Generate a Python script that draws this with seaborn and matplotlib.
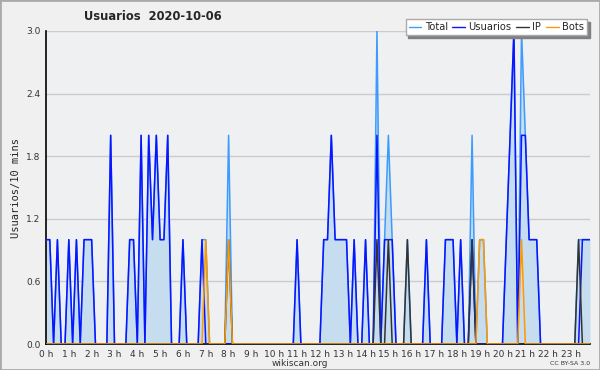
import numpy as np
import pandas as pd
import matplotlib
matplotlib.use("Agg")
import matplotlib.pyplot as plt
import seaborn as sns
from matplotlib.ticker import MultipleLocator
from matplotlib.lines import Line2D
from matplotlib.patches import Rectangle

# ---- data: 10-minute bins over the day (144 bins) ----
usuarios = [
    1, 1, 0, 1, 0, 0, 1, 0, 1, 0, 1, 1,
    1, 0, 0, 0, 0, 2, 0, 0, 0, 0, 1, 1,
    0, 2, 0, 2, 1, 2, 1, 1, 2, 0, 0, 0,
    1, 0, 0, 0, 0, 1, 0, 0, 0, 0, 0, 0,
    0, 0, 0, 0, 0, 0, 0, 0, 0, 0, 0, 0,
    0, 0, 0, 0, 0, 0, 1, 0, 0, 0, 0, 0,
    0, 1, 1, 2, 1, 1, 1, 1, 0, 1, 0, 0,
    1, 0, 0, 2, 0, 1, 1, 1, 0, 0, 0, 0,
    0, 0, 0, 0, 1, 0, 0, 0, 0, 1, 1, 1,
    0, 1, 0, 0, 1, 0, 0, 0, 0, 0, 0, 0,
    0, 1, 2, 3, 0, 2, 2, 1, 1, 1, 0, 0,
    0, 0, 0, 0, 0, 0, 0, 0, 0, 1, 1, 1,
]
ip = [
    0, 0, 0, 0, 0, 0, 0, 0, 0, 0, 0, 0,
    0, 0, 0, 0, 0, 0, 0, 0, 0, 0, 0, 0,
    0, 0, 0, 0, 0, 0, 0, 0, 0, 0, 0, 0,
    0, 0, 0, 0, 0, 0, 0, 0, 0, 0, 0, 0,
    1, 0, 0, 0, 0, 0, 0, 0, 0, 0, 0, 0,
    0, 0, 0, 0, 0, 0, 0, 0, 0, 0, 0, 0,
    0, 0, 0, 0, 0, 0, 0, 0, 0, 0, 0, 0,
    0, 0, 0, 1, 0, 0, 1, 0, 0, 0, 0, 1,
    0, 0, 0, 0, 0, 0, 0, 0, 0, 0, 0, 0,
    0, 0, 0, 0, 1, 0, 0, 0, 0, 0, 0, 0,
    0, 0, 0, 0, 0, 0, 0, 0, 0, 0, 0, 0,
    0, 0, 0, 0, 0, 0, 0, 0, 1, 0, 0, 0,
]
bots = [
    0, 0, 0, 0, 0, 0, 0, 0, 0, 0, 0, 0,
    0, 0, 0, 0, 0, 0, 0, 0, 0, 0, 0, 0,
    0, 0, 0, 0, 0, 0, 0, 0, 0, 0, 0, 0,
    0, 0, 0, 0, 0, 0, 1, 0, 0, 0, 0, 0,
    1, 0, 0, 0, 0, 0, 0, 0, 0, 0, 0, 0,
    0, 0, 0, 0, 0, 0, 0, 0, 0, 0, 0, 0,
    0, 0, 0, 0, 0, 0, 0, 0, 0, 0, 0, 0,
    0, 0, 0, 0, 0, 0, 0, 0, 0, 0, 0, 0,
    0, 0, 0, 0, 0, 0, 0, 0, 0, 0, 0, 0,
    0, 0, 0, 0, 0, 0, 1, 1, 0, 0, 0, 0,
    0, 0, 0, 0, 0, 1, 0, 0, 0, 0, 0, 0,
    0, 0, 0, 0, 0, 0, 0, 0, 0, 0, 0, 0,
]
total = [
    1, 1, 0, 1, 0, 0, 1, 0, 1, 0, 1, 1,
    1, 0, 0, 0, 0, 2, 0, 0, 0, 0, 1, 1,
    0, 2, 0, 2, 1, 2, 1, 1, 2, 0, 0, 0,
    1, 0, 0, 0, 0, 1, 1, 0, 0, 0, 0, 0,
    2, 0, 0, 0, 0, 0, 0, 0, 0, 0, 0, 0,
    0, 0, 0, 0, 0, 0, 1, 0, 0, 0, 0, 0,
    0, 1, 1, 2, 1, 1, 1, 1, 0, 1, 0, 0,
    1, 0, 0, 3, 0, 1, 2, 1, 0, 0, 0, 1,
    0, 0, 0, 0, 1, 0, 0, 0, 0, 1, 1, 1,
    0, 1, 0, 0, 2, 0, 1, 1, 0, 0, 0, 0,
    0, 1, 2, 3, 0, 3, 2, 1, 1, 1, 0, 0,
    0, 0, 0, 0, 0, 0, 0, 0, 1, 1, 1, 1,
]
series_names = ["Total", "Usuarios", "IP", "Bots"]
hour_labels = [f"{h} h" for h in range(24)]
y_ticks = [0.0, 0.6, 1.2, 1.8, 2.4, 3.0]
title_text = "Usuarios  2020-10-06"

hours = np.arange(len(total)) / 6.0
df = pd.DataFrame({"hour": hours, "Total": total, "Usuarios": usuarios,
                   "IP": ip, "Bots": bots})

colors = {"Total": "#3d9bff", "Usuarios": "#0a14ff", "IP": "#333333", "Bots": "#ff9900"}
fill_color = "#c6ddf0"

sns.set_style("white")
plt.rcParams["font.family"] = ["DejaVu Sans"]

fig = plt.figure(figsize=(6.0, 3.7), dpi=100, facecolor="#f0f0f0")
ax = fig.add_axes([46 / 600, 1 - 344 / 370, 544 / 600, 313 / 370])
ax.set_facecolor("#eef0f2")

ax.fill_between(df["hour"], df["Total"], 0, color=fill_color, lw=0, zorder=1)
for name in series_names:
    sns.lineplot(data=df, x="hour", y=name, ax=ax, color=colors[name],
                 lw=1.1, zorder=3, legend=False)

ax.set_xlim(0, hours[-1])
ax.set_ylim(0, 3.0)
ax.set_yticks(y_ticks)
ax.set_yticklabels([f"{v:.1f}" for v in y_ticks])
ax.yaxis.set_minor_locator(MultipleLocator(0.15))
ax.set_xticks(np.arange(24))
ax.set_xticklabels(hour_labels)
ax.xaxis.set_minor_locator(MultipleLocator(1 / 3))
ax.grid(axis="y", which="major", color="#cccccc", lw=1)
ax.set_axisbelow(True)

for s in ["top", "right"]:
    ax.spines[s].set_visible(False)
for s in ["left", "bottom"]:
    ax.spines[s].set_color("black")
    ax.spines[s].set_linewidth(1.2)

ax.tick_params(axis="both", which="major", direction="out", length=3.5, width=1,
               labelsize=6.5, colors="black", pad=0.5)
ax.tick_params(axis="both", which="minor", direction="out", length=3, width=1,
               colors="black")
ax.tick_params(axis="both", labelcolor="#333333")
ax.set_xlabel("")
ax.set_ylabel("Usuarios/10 mins", family="DejaVu Sans Mono", fontsize=7.5, labelpad=4)

fig.text(84 / 600, 1 - 17 / 370, title_text, fontsize=8.3, fontweight="bold",
         va="center", ha="left")

handles = [Line2D([], [], color=colors[n], lw=1) for n in series_names]
leg = fig.legend(handles, series_names, ncol=4, loc="upper right",
                 bbox_to_anchor=(587 / 600, 1 - 19 / 370), fontsize=7.1,
                 frameon=True, fancybox=False, shadow={"color": "#808080", "alpha": 1},
                 handlelength=1.3, handletextpad=0.35, columnspacing=0.45,
                 borderpad=0.3, borderaxespad=0)
leg.get_frame().set_edgecolor("#aaaaaa")
leg.get_frame().set_facecolor("white")

fig.text(300 / 600, 1 - 363.5 / 370, "wikiscan.org", fontsize=6.5, ha="center",
         va="center", color="#333333")
fig.text(590 / 600, 1 - 363.5 / 370, "CC BY-SA 3.0", fontsize=4.5, ha="right",
         va="center", color="#333333")

fig.patches.append(Rectangle((0, 0), 1, 1, transform=fig.transFigure, fill=False,
                             edgecolor="#aaaaaa", lw=2))

fig.savefig("out.png", dpi=100, facecolor=fig.get_facecolor())
